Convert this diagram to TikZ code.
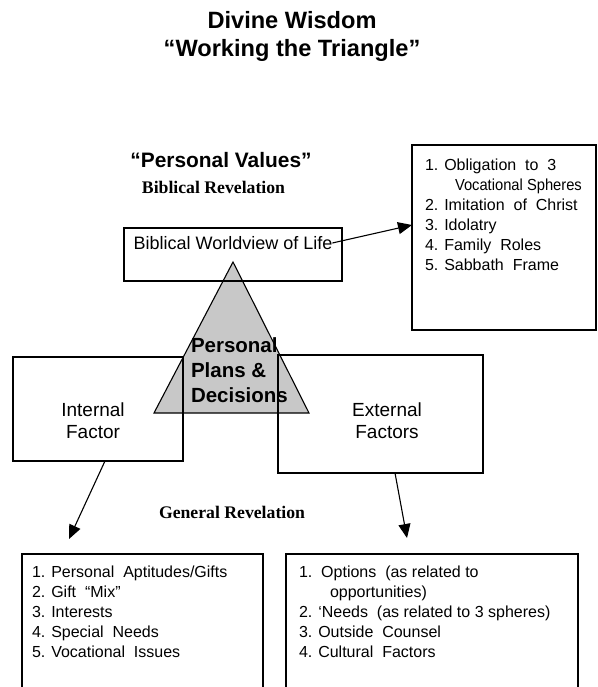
\documentclass[tikz,border=0pt]{standalone}
\usepackage{fontspec}
\setmainfont{Liberation Sans}
\newfontfamily\revfont{Liberation Serif}
\newfontfamily\narrowfont{Liberation Sans}[FakeStretch=0.92]
\usetikzlibrary{arrows.meta,positioning}
\definecolor{trigray}{RGB}{200,200,200}
\tikzset{
>={Triangle[length=14pt,width=12pt]}, % solid arrow heads
every node/.style={inner sep=0pt, outer sep=0pt}, % nodes sit exactly where placed
box/.style={draw, line width=1.1pt, anchor=north west}, % the open frames
link/.style={->, line width=1.1pt}, % the arrows between frames
title/.style={align=center, font=\bfseries\fontsize{23.6}{28}\selectfont},
heading/.style={font=\bfseries\fontsize{20.9}{25}\selectfont},
rev/.style={font=\revfont\bfseries\fontsize{17.7}{21}\selectfont},
label/.style={font=\fontsize{18}{22}\selectfont},
factor/.style={align=center, font=\fontsize{19}{22}\selectfont},
list/.style={align=left, anchor=north west, font=\fontsize{16}{20}\selectfont},
}

\begin{document}
\begin{tikzpicture}[x=1pt, y=-1pt]
\useasboundingbox (0,0) rectangle (597,687);
% headings
\node[title] (title) at (292,36) {Divine Wisdom\\“Working the Triangle”};
\node[heading] (values) at (221,160) {“Personal Values”};
\node[rev] (bibrev) at (213.5,187) {Biblical Revelation};
\node[rev] (genrev) at (232,512) {General Revelation};
% the triangle
\coordinate (apex) at (233,262);
\coordinate (baseL) at (154,413);
\coordinate (baseR) at (309,413);
\filldraw[fill=trigray, line width=1.1pt] (apex) -- (baseL) -- (baseR) -- cycle;
% frames
\node[box, minimum width=218pt, minimum height=53pt] (worldbox) at (124,228) {};
\node[box, minimum width=184pt, minimum height=185pt] (valbox) at (412,145) {};
\node[box, minimum width=170pt, minimum height=104pt] (intbox) at (13,357) {};
\node[box, minimum width=205pt, minimum height=118pt] (extbox) at (278,355) {};
\node[box, minimum width=241pt, minimum height=146pt] (leftbox) at (22,554) {};
\node[box, minimum width=292pt, minimum height=146pt] (rightbox) at (286,554) {};
% texts
\node[label] (worldtext) at (233,243) {Biblical Worldview of Life};
\node[align=left, anchor=west, font=\bfseries\fontsize{20.5}{25}\selectfont] (plans) at (191,370) {Personal\\Plans \&\\Decisions};
\node[factor] (inttext) at (93,421) {Internal\\Factor};
\node[factor] (exttext) at (387,421) {External\\Factors};
\node[list] (vallist) at (425,159) {1. Obligation\ \ to\ \ 3\\\hspace{30pt}\narrowfont Vocational Spheres\\2. Imitation\ \ of\ \ Christ\\3. Idolatry\\4. Family\ \ Roles\\5. Sabbath\ \ Frame};
\node[list] (intlist) at (32,566) {1. Personal\ \ Aptitudes/Gifts\\2. Gift\ \ “Mix”\\3. Interests\\4. Special\ \ Needs\\5. Vocational\ \ Issues};
\node[list] (extlist) at (299,566) {1.\ \ Options\ \ (as related to\\\hspace{31pt}opportunities)\\2. ‘Needs\ \ (as related to 3 spheres)\\3. Outside\ \ Counsel\\4. Cultural\ \ Factors};
% arrows
\draw[link] (worldtext.east) -- ([yshift=12.5pt]valbox.west);
\draw[link] ([xshift=7pt]intbox.south) -- ([xshift=-73.5pt, yshift=15pt]leftbox.north);
\draw[link] ([xshift=14.5pt]extbox.south) -- ([xshift=-25pt, yshift=16pt]rightbox.north);
\end{tikzpicture}
\end{document}
